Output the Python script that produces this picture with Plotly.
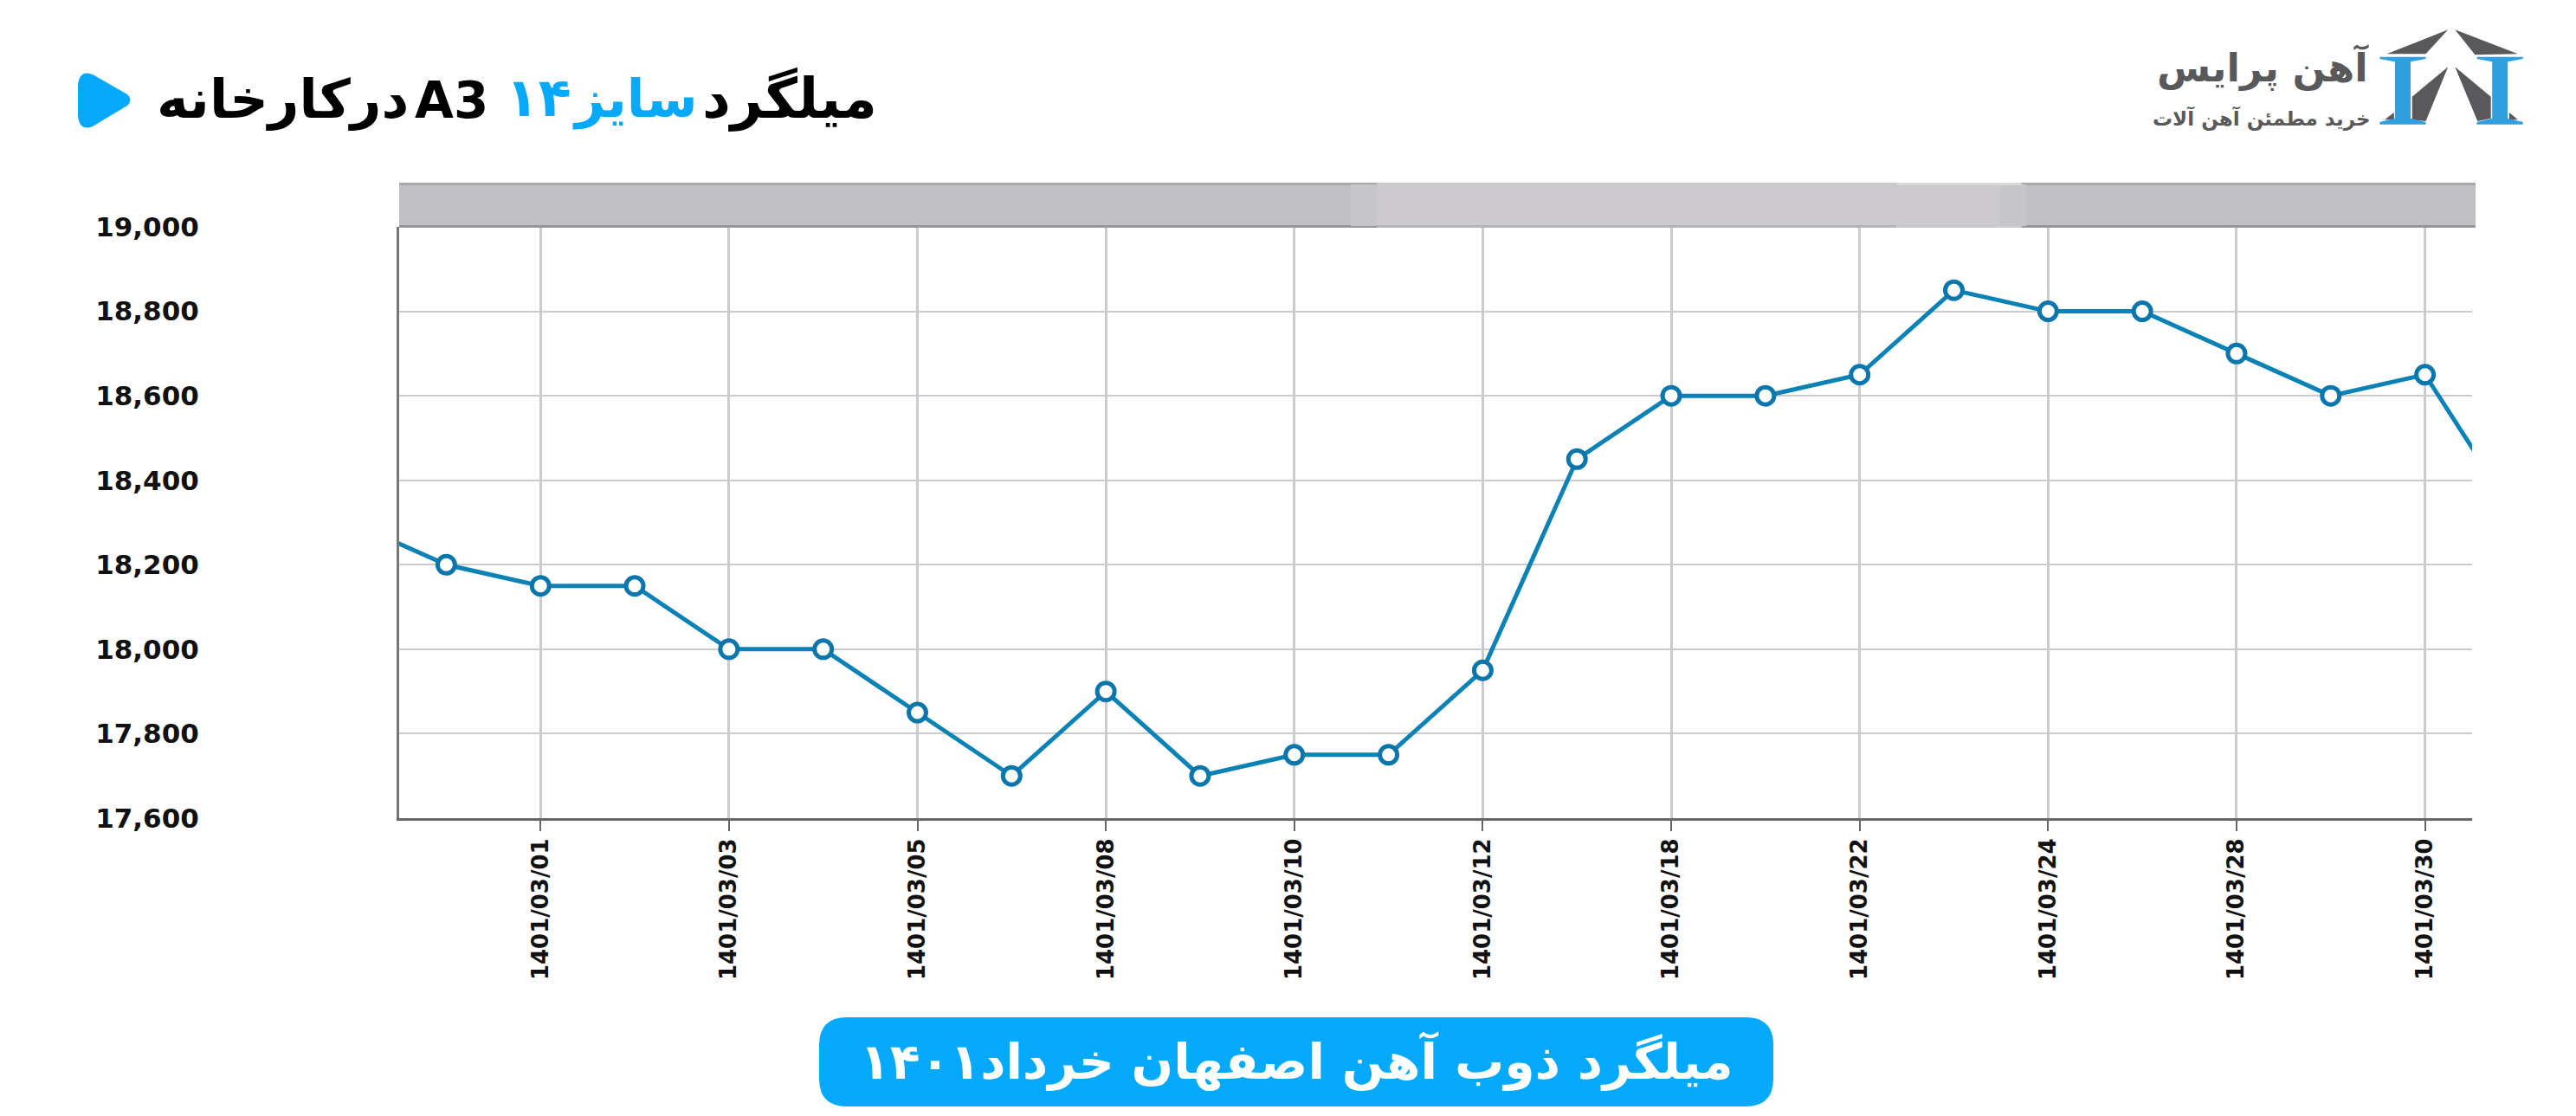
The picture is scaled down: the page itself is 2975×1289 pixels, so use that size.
import plotly.graph_objects as go

W, H = 2975, 1289
L, R, T, B = 461, 2855, 262, 945

# Data (Jalali dates, Khordad 1401); the first and last entries lie outside the visible window
positions = [-1, 0, 1, 2, 3, 4, 5, 6, 7, 8, 9, 10, 11, 12, 13, 14, 15, 16, 17, 18, 19, 20, 21, 22]
prices = [18300, 18200, 18150, 18150, 18000, 18000, 17850, 17700, 17900, 17700, 17750, 17750,
          17950, 18450, 18600, 18600, 18650, 18850, 18800, 18800, 18700, 18600, 18650, 18304]
tick_positions = [1, 3, 5, 7, 9, 11, 13, 15, 17, 19, 21]
tick_labels = ["1401/03/01", "1401/03/03", "1401/03/05", "1401/03/08", "1401/03/10", "1401/03/12",
               "1401/03/18", "1401/03/22", "1401/03/24", "1401/03/28", "1401/03/30"]
y_ticks = [17600, 17800, 18000, 18200, 18400, 18600, 18800, 19000]

FA = "DejaVu Sans"
BLUE = "#04a9fb"


def px(x):
    return (x - L) / (R - L)


def py(y):
    return (B - y) / (B - T)


def poly(points, fill):
    d = "M " + " L ".join(f"{px(x):.5f} {py(y):.5f}" for x, y in points) + " Z"
    return dict(type="path", xref="paper", yref="paper", path=d, fillcolor=fill, line=dict(width=0))


def band_rect(x0, x1, y0, y1, fill):
    return dict(type="rect", xref="paper", yref="paper", x0=px(x0), x1=px(x1), y0=py(y0), y1=py(y1),
                fillcolor=fill, line=dict(width=0))


def note(text, cx, cy, size, color, bold=True, anchor="center"):
    return dict(text=f"<b>{text}</b>" if bold else text, x=px(cx), y=py(cy), xref="paper", yref="paper",
                showarrow=False, xanchor=anchor, yanchor="middle",
                font=dict(family=FA, size=size, color=color))


fig = go.Figure(go.Scatter(
    x=positions, y=prices, mode="lines+markers",
    line=dict(color="#0a82b6", width=5),
    marker=dict(symbol="circle", size=20, color="white", line=dict(color="#0b76ab", width=5)),
    hoverinfo="skip",
))

# Logo geometry
GR = "#59595b"
LB = "#2f9fdf"


def z(x, y):
    return (2400 + x / 2.727, y / 3)


roofs = [
    [z(1165, 103), z(972, 187), z(1095, 187)],
    [z(1187, 103), z(1385, 187), z(1250, 190)],
    [z(1165, 232), z(1052, 335), z(1052, 415), z(1095, 420)],
    [z(1187, 232), z(1300, 335), z(1300, 410), z(1258, 420)],
    [z(965, 415), z(995, 390), z(995, 415)],
    [z(1385, 415), z(1358, 390), z(1358, 415)],
]


def beam(x0):
    pts = [(0, 197), (145, 197), (145, 204), (97, 214), (97, 410), (145, 423), (145, 431), (0, 431),
           (0, 423), (48, 410), (48, 214), (0, 204)]
    return [z(x0 + a, b) for a, b in pts]


# Play icon: rounded triangle
play = dict(type="path", xref="paper", yref="paper", fillcolor=BLUE, line=dict(width=0),
            path=(f"M {px(90):.5f} {py(98):.5f} Q {px(92):.5f} {py(80):.5f} {px(107):.5f} {py(86):.5f} "
                  f"L {px(147):.5f} {py(109):.5f} Q {px(154):.5f} {py(115):.5f} {px(147):.5f} {py(122):.5f} "
                  f"L {px(107):.5f} {py(146):.5f} Q {px(92):.5f} {py(152):.5f} {px(90):.5f} {py(134):.5f} Z"))

r = 32
pill = (f"M {px(946 + r):.5f} {py(1175):.5f} L {px(2048 - r):.5f} {py(1175):.5f} "
        f"Q {px(2048):.5f} {py(1175):.5f} {px(2048):.5f} {py(1175 + r):.5f} "
        f"L {px(2048):.5f} {py(1278 - r):.5f} Q {px(2048):.5f} {py(1278):.5f} {px(2048 - r):.5f} {py(1278):.5f} "
        f"L {px(946 + r):.5f} {py(1278):.5f} Q {px(946):.5f} {py(1278):.5f} {px(946):.5f} {py(1278 - r):.5f} "
        f"L {px(946):.5f} {py(1175 + r):.5f} Q {px(946):.5f} {py(1175):.5f} {px(946 + r):.5f} {py(1175):.5f} Z")

shapes = [
    band_rect(461, 2859, 211, 263, "#c1c0c4"),
    band_rect(461, 2859, 211, 214, "#a8a7ab"),
    band_rect(461, 2859, 260, 263, "#96959a"),
    band_rect(1560, 1590, 213, 261, "#c6c5c9"),
    band_rect(1590, 2310, 214, 260, "#cccace"),
    band_rect(2310, 2340, 213, 261, "#c6c5c9"),
    band_rect(1590, 2190, 211, 214, "#c9c8cc"),
    band_rect(1590, 2190, 260, 263, "#b4b3b7"),
    band_rect(2190, 2335, 211, 214, "#d8d7da"),
    band_rect(2190, 2335, 260, 263, "#c9c8cc"),
    dict(type="path", xref="paper", yref="paper", path=pill, fillcolor=BLUE, line=dict(width=0)),
    play,
]
shapes += [poly(p, GR) for p in roofs]
shapes += [poly(beam(950), LB), poly(beam(1256), LB)]

annotations = [
    note("میلگرد", 912, 114, 64, "#000000"),
    note("سایز", 733, 114, 60, BLUE),
    note("۱۴", 622, 112, 62, BLUE),
    note("A3", 521, 116, 58, "#000000"),
    note("درکارخانه", 326, 114, 62, "#000000"),
    note("میلگرد ذوب آهن اصفهان خرداد۱۴۰۱", 1497, 1225, 57, "white"),
    note("آهن پرایس", 2613, 78, 45, GR),
    note("خرید مطمئن آهن آلات", 2612, 137, 23, GR),
]

fig.update_layout(
    width=W, height=H, autosize=False,
    margin=dict(l=L, r=W - R, t=T, b=H - B, pad=0),
    paper_bgcolor="white", plot_bgcolor="white", showlegend=False,
    shapes=shapes, annotations=annotations,
    font=dict(family=FA, color="#111111"),
)
fig.update_xaxes(
    range=[-0.5, 21.5], tickmode="array", tickvals=tick_positions, ticktext=[f"<b>{t}</b>" for t in tick_labels],
    tickangle=-90, tickfont=dict(family=FA, size=26, color="#111111"),
    showgrid=True, gridcolor="#cbcace", gridwidth=3, zeroline=False,
    showline=True, linecolor="#666666", linewidth=3, ticks="outside", ticklen=12, tickcolor="#666666", tickwidth=2,
    ticklabelstandoff=-2,
)
fig.update_yaxes(
    range=[17600, 19000], tickmode="array", tickvals=y_ticks,
    ticktext=[f"<b>{v:,}</b>" for v in y_ticks],
    tickfont=dict(family=FA, size=31, color="#111111"),
    showgrid=True, gridcolor="#cbcace", gridwidth=2, zeroline=False,
    showline=True, linecolor="#777777", linewidth=3, ticks="", ticklabelstandoff=222,
)

fig.write_html("out.html", config={"displayModeBar": False},
               post_script="document.body.style.margin='0';document.body.style.overflow='hidden';")
